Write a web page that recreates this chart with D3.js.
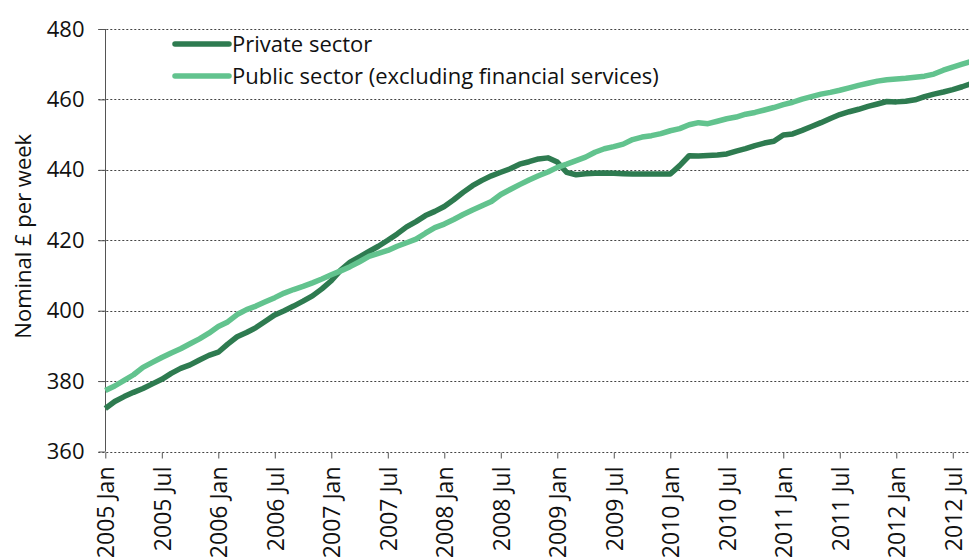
<!DOCTYPE html>
<html>
<head>
<meta charset="utf-8">
<script src="https://cdn.jsdelivr.net/npm/d3@7"></script>
<style>
  html, body { margin: 0; padding: 0; background: #fff; }
  svg { display: block; }
  text { font-family: "Open Sans", "Noto Sans", sans-serif; fill: #111; }
</style>
</head>
<body>
<svg id="chart" width="969" height="557"></svg>
<script>
// ---- Data (monthly, 2005 Jan .. 2012 Sep) ----
const startYear = 2005;
const monthNames = ["Jan","Feb","Mar","Apr","May","Jun","Jul","Aug","Sep","Oct","Nov","Dec"];
const privateSector = [
  372.2, 374.2, 375.6, 376.8, 377.9, 379.2, 380.5, 382.2, 383.6, 384.6, 386.0, 387.3,
  388.2, 390.5, 392.6, 393.8, 395.2, 397.0, 398.8, 400.0, 401.3, 402.7, 404.2, 406.2,
  408.5, 411.5, 413.8, 415.3, 416.8, 418.3, 420.0, 421.8, 423.8, 425.3, 427.0, 428.2,
  429.6, 431.5, 433.6, 435.5, 437.0, 438.3, 439.3, 440.3, 441.6, 442.3, 443.1, 443.4,
  442.2, 439.3, 438.6, 438.9, 439.0, 439.1, 439.0, 438.9, 438.8, 438.8, 438.8, 438.8,
  438.8, 441.2, 444.0, 443.9, 444.1, 444.2, 444.5, 445.3, 446.0, 446.9, 447.6, 448.1,
  449.9, 450.2, 451.2, 452.3, 453.4, 454.6, 455.7, 456.5, 457.2, 458.0, 458.7, 459.4,
  459.3, 459.5, 459.9, 460.8, 461.5, 462.1, 462.8, 463.6, 464.5
];
const publicSector = [
  377.3, 378.6, 380.2, 381.8, 383.9, 385.3, 386.7, 388.0, 389.2, 390.6, 392.0, 393.6,
  395.5, 396.8, 398.9, 400.3, 401.3, 402.5, 403.7, 405.0, 406.0, 406.9, 407.9, 409.0,
  410.2, 411.3, 412.5, 413.9, 415.4, 416.3, 417.1, 418.3, 419.3, 420.3, 422.0, 423.6,
  424.6, 425.9, 427.3, 428.6, 429.8, 431.0, 433.0, 434.4, 435.8, 437.1, 438.3, 439.4,
  440.7, 441.6, 442.6, 443.6, 445.0, 446.0, 446.6, 447.3, 448.6, 449.3, 449.7, 450.3,
  451.1, 451.7, 452.8, 453.4, 453.1, 453.8, 454.5, 455.0, 455.8, 456.3, 457.0, 457.7,
  458.5, 459.2, 460.1, 460.8, 461.5, 462.0, 462.6, 463.3, 464.0, 464.6, 465.2, 465.6,
  465.8, 466.0, 466.3, 466.6, 467.2, 468.3, 469.2, 470.0, 470.8
];
const seriesNames = ["Private sector", "Public sector (excluding financial services)"];
const seriesColors = ["#2e7b50", "#62c38e"];
const yTicks = [360, 380, 400, 420, 440, 460, 480];
const yTitle = "Nominal £ per week";

const months = privateSector.map((_, i) =>
  `${startYear + Math.floor(i / 12)} ${monthNames[i % 12]}`);
const xTickLabels = months.filter((m, i) => i % 6 === 0);

// ---- Layout ----
const svg = d3.select("#chart");
const pLeft = 105.3, pRight = 971.6, pTop = 29, pBottom = 451.5;

const x = d3.scalePoint().domain(months).range([pLeft, pRight]);
const y = d3.scaleLinear().domain([360, 480]).range([pBottom, pTop]);

// gridlines
svg.append("g").selectAll("line").data(yTicks).join("line")
  .attr("x1", pLeft - 7).attr("x2", pRight)
  .attr("y1", d => Math.round(y(d)) + 0.5).attr("y2", d => Math.round(y(d)) + 0.5)
  .attr("stroke", "#444").attr("stroke-width", 1).attr("stroke-dasharray", "2,2");

// y axis
const yAxis = svg.append("g").attr("transform", `translate(${Math.round(pLeft) + 0.5},0)`)
  .call(d3.axisLeft(y).tickValues(yTicks).tickSize(7).tickPadding(14));
yAxis.select(".domain").attr("stroke", "#555").attr("d", `M0,${y(480)}V${y(360)}`);
yAxis.selectAll(".tick line").attr("stroke", "#555");
yAxis.selectAll(".tick text").attr("font-size", 22).attr("fill", "#111")
  .attr("font-family", '"Open Sans", sans-serif');

// x axis
const xAxis = svg.append("g").attr("transform", `translate(0,${Math.round(pBottom) + 0.5})`)
  .call(d3.axisBottom(x).tickValues(xTickLabels).tickSize(6).tickPadding(0));
xAxis.select(".domain").remove();
xAxis.selectAll(".tick line").attr("stroke", "#555");
xAxis.selectAll(".tick text")
  .attr("font-size", 23).attr("fill", "#111")
  .attr("font-family", '"Open Sans", sans-serif')
  .attr("text-anchor", "end")
  .attr("transform", "translate(0,14) rotate(-90)")
  .attr("x", 0).attr("y", 0).attr("dy", "0.36em");

// y title
svg.append("text")
  .attr("transform", `translate(23,${(pTop + pBottom) / 2 - 4}) rotate(-90)`)
  .attr("text-anchor", "middle")
  .attr("dy", "0.35em")
  .attr("font-size", 22)
  .text(yTitle);

// lines
const line = d3.line().x((d, i) => x(months[i])).y(d => y(d));
[privateSector, publicSector].forEach((vals, k) => {
  svg.append("path").datum(vals)
    .attr("fill", "none").attr("stroke", seriesColors[k])
    .attr("stroke-width", 5.5).attr("stroke-linejoin", "round")
    .attr("d", line);
});

// legend
const legendY = [44, 76];
seriesNames.forEach((name, k) => {
  svg.append("line")
    .attr("x1", 175).attr("x2", 229)
    .attr("y1", legendY[k]).attr("y2", legendY[k])
    .attr("stroke", seriesColors[k]).attr("stroke-width", 5.5)
    .attr("stroke-linecap", "round");
  svg.append("text")
    .attr("x", 232).attr("y", legendY[k]).attr("dy", "0.35em")
    .attr("font-size", 22)
    .text(name);
});
</script>
</body>
</html>
